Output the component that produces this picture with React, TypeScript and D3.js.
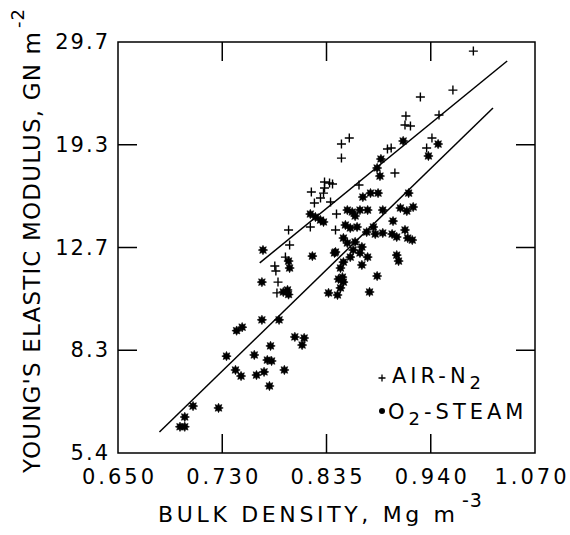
import * as d3 from 'd3'

// tick labels as printed on the figure (log-spaced axes)
const xTickLabels = ['0.650', '0.730', '0.835', '0.940', '1.070']
const yTickLabels = ['5.4', '8.3', '12.7', '19.3', '29.7']

// AIR-N2 samples: bulk density (Mg m-3), Young's modulus (GN m-2)
const airDensity = [
  0.994, 0.97, 0.933, 0.954, 0.917, 0.916, 0.922, 0.946, 0.94, 0.897, 0.901, 0.857,
  0.849, 0.849, 0.905, 0.832, 0.837, 0.832, 0.831, 0.828, 0.819, 0.822, 0.838, 0.84,
  0.867, 0.844, 0.843, 0.818, 0.797, 0.798, 0.794, 0.784, 0.785, 0.787, 0.786,
]
const airModulus = [
  28.6, 24.33, 23.64, 21.94, 21.85, 21.05, 20.96, 19.94, 19.13, 19.05, 19.13, 19.94,
  19.45, 18.35, 17.25, 16.62, 16.55, 16.21, 15.87, 15.55, 15.94, 15.23, 15.29, 16.48,
  16.41, 14.55, 13.62, 13.79, 13.62, 12.8, 12.17, 11.73, 11.49, 10.97, 10.49,
]

// O2-STEAM samples
const steamDensity = [
  0.914, 0.953, 0.942, 0.89, 0.886, 0.889, 0.92, 0.871, 0.879, 0.887, 0.911, 0.925,
  0.918, 0.903, 0.86, 0.863, 0.855, 0.868, 0.876, 0.892, 0.853, 0.858, 0.865, 0.882,
  0.875, 0.884, 0.892, 0.902, 0.907, 0.916, 0.919, 0.924, 0.851, 0.855, 0.863, 0.87,
  0.861, 0.868, 0.876, 0.858, 0.842, 0.907, 0.909, 0.848, 0.851, 0.87, 0.886, 0.85,
  0.846, 0.851, 0.848, 0.836, 0.845, 0.878, 0.818, 0.823, 0.828, 0.831, 0.82, 0.843,
  0.773, 0.797, 0.798, 0.772, 0.792, 0.772, 0.788, 0.749, 0.754, 0.803, 0.812, 0.81,
  0.78, 0.765, 0.74, 0.777, 0.781, 0.793, 0.774, 0.767, 0.748, 0.753, 0.779, 0.711,
  0.733, 0.704, 0.7, 0.704, 0.796, 0.797,
]
const steamModulus = [
  19.7, 19.45, 18.51, 18.28, 17.61, 17.03, 15.87, 15.61, 15.87, 15.87, 14.92, 14.98,
  14.73, 14.13, 14.67, 14.43, 14.79, 14.79, 14.79, 14.79, 13.9, 13.73, 13.79, 13.79,
  13.5, 13.39, 13.45, 13.39, 13.23, 13.62, 13.17, 13.06, 13.17, 12.9, 12.96, 12.69,
  12.53, 12.38, 12.17, 12.17, 12.38, 12.27, 11.97, 11.63, 11.92, 11.78, 11.25, 11.2,
  11.11, 10.97, 10.71, 10.49, 10.4, 10.53, 14.55, 14.37, 14.19, 14.08, 12.22, 12.43,
  12.53, 11.97, 11.63, 10.97, 10.53, 9.38, 9.38, 8.97, 9.1, 8.74, 8.7, 8.45,
  8.42, 8.11, 8.07, 7.94, 7.91, 7.62, 7.56, 7.46, 7.62, 7.43, 7.13, 6.56,
  6.51, 6.27, 6.02, 6.02, 10.62, 10.42,
]

// fitted lines (end points)
const airFitDensity = [0.77, 1.035]
const airFitModulus = [11.88, 27.45]
const steamFitDensity = [0.683, 1.0176]
const steamFitModulus = [5.89, 22.59]

const width = 570
const height = 535
const margin = { top: 42, right: 35, bottom: 82, left: 118 }
const font = '"DejaVu Sans", sans-serif'
const tickLen = 19

const starPath = d3
  .lineRadial<number>()
  .angle((_, i) => (i * Math.PI) / 8)
  .radius((_, i) => (i % 2 ? 2.7 : 4.7))
  .curve(d3.curveLinearClosed)(d3.range(16))

const crossPath = 'M-4.5,0H4.5M0,-4.5V4.5'

export default function App() {
  const x = d3
    .scaleLog()
    .domain([0.65, 1.07])
    .range([margin.left, width - margin.right])
  const y = d3
    .scaleLog()
    .domain([5.4, 29.7])
    .range([height - margin.bottom, margin.top])

  const [x0, x1] = x.domain()
  const [y0, y1] = y.domain()
  const n = xTickLabels.length - 1
  const xTicks = xTickLabels.map((label, i) => ({
    label,
    pos: x(x0 * Math.pow(x1 / x0, i / n)),
  }))
  const yTicks = yTickLabels.map((label, i) => ({
    label,
    pos: y(y0 * Math.pow(y1 / y0, i / n)),
  }))

  const line = d3
    .line<[number, number]>()
    .x(d => x(d[0]))
    .y(d => y(d[1]))

  const airFit = d3.zip(airFitDensity, airFitModulus) as [number, number][]
  const steamFit = d3.zip(steamFitDensity, steamFitModulus) as [number, number][]

  const left = margin.left
  const right = width - margin.right
  const top = margin.top
  const bottom = height - margin.bottom

  return (
    <svg
      width={width}
      height={height}
      style={{ position: 'absolute', left: 0, top: 0, background: '#fff' }}
      fontFamily={font}
    >
      <rect
        x={left}
        y={top}
        width={right - left}
        height={bottom - top}
        fill="none"
        stroke="#000"
        strokeWidth={1.5}
      />
      {xTicks.slice(1, -1).map(t => (
        <g key={t.label} stroke="#000" strokeWidth={1.5}>
          <line x1={t.pos} x2={t.pos} y1={bottom} y2={bottom - tickLen} />
          <line x1={t.pos} x2={t.pos} y1={top} y2={top + tickLen} />
        </g>
      ))}
      {yTicks.slice(1, -1).map(t => (
        <g key={t.label} stroke="#000" strokeWidth={1.5}>
          <line x1={left} x2={left + tickLen} y1={t.pos} y2={t.pos} />
          <line x1={right} x2={right - tickLen} y1={t.pos} y2={t.pos} />
        </g>
      ))}
      {xTicks.map(t => (
        <text
          key={t.label}
          x={Math.min(t.pos + 1.5, width - 38)}
          y={bottom + 31}
          fontSize={21}
          letterSpacing={3}
          textAnchor="middle"
        >
          {t.label}
        </text>
      ))}
      {yTicks.map(t => (
        <text
          key={t.label}
          x={left - 8}
          y={t.pos + 7}
          fontSize={21}
          letterSpacing={2}
          textAnchor="end"
        >
          {t.label}
        </text>
      ))}

      <path d={line(airFit) || ''} fill="none" stroke="#000" strokeWidth={1.5} />
      <path d={line(steamFit) || ''} fill="none" stroke="#000" strokeWidth={1.5} />

      {steamDensity.map((d, i) => (
        <path
          key={'s' + i}
          d={starPath || ''}
          transform={`translate(${x(d)},${y(steamModulus[i])})`}
          fill="#000"
          stroke="#000"
          strokeWidth={0.6}
        />
      ))}
      {airDensity.map((d, i) => (
        <path
          key={'a' + i}
          d={crossPath}
          transform={`translate(${x(d)},${y(airModulus[i])})`}
          fill="none"
          stroke="#000"
          strokeWidth={1.4}
        />
      ))}

      {/* legend */}
      <path d="M-3.5,0H3.5M0,-3.5V3.5" transform="translate(382,378)" stroke="#000" strokeWidth={1.3} />
      <text x={392} y={383} fontSize={21} letterSpacing={4}>
        AIR-N
        <tspan fontSize={18} dy={6}>2</tspan>
      </text>
      <circle cx={382} cy={411} r={3} fill="#000" />
      <text x={388} y={419} fontSize={21} letterSpacing={4}>
        O<tspan fontSize={18} dy={6}>2</tspan>
        <tspan dy={-6}>-STEAM</tspan>
      </text>

      {/* axis titles */}
      <text x={158} y={522} fontSize={22} textLength={297} lengthAdjust="spacing">
        BULK DENSITY, Mg m
      </text>
      <text x={462} y={507} fontSize={19} letterSpacing={1}>
        -3
      </text>
      <text
        transform="translate(40,473) rotate(-90)"
        fontSize={23}
        textLength={441}
        lengthAdjust="spacing"
      >
        YOUNG'S ELASTIC MODULUS, GN m
      </text>
      <text transform="translate(24,28) rotate(-90)" fontSize={18} letterSpacing={1}>
        -2
      </text>
    </svg>
  )
}
